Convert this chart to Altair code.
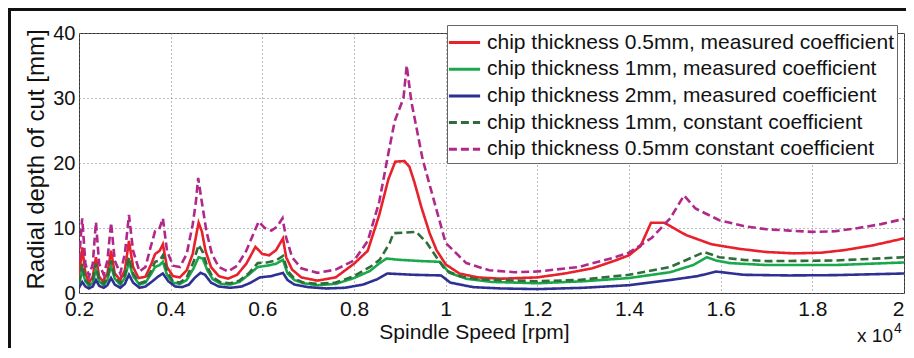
import altair as alt
import pandas as pd

NAMES = [
    "chip thickness 0.5mm, measured coefficient",
    "chip thickness 1mm, measured coefficient",
    "chip thickness 2mm, measured coefficient",
    "chip thickness 1mm, constant coefficient",
    "chip thickness 0.5mm constant coefficient",
]
COLORS = ["#E8212A", "#19A84B", "#2E3192", "#2F6E3B", "#B0288A"]
DASHES = [[1, 0], [1, 0], [1, 0], [8, 4], [8, 4]]

X_TICKS = [0.2, 0.4, 0.6, 0.8, 1.0, 1.2, 1.4, 1.6, 1.8, 2.0]
Y_TICKS = [0, 10, 20, 30, 40]

# chip thickness 0.5mm, measured coefficient (red)
RED_X = [0.200, 0.207, 0.214, 0.222, 0.230, 0.237, 0.244, 0.252, 0.262, 0.270, 0.278, 0.290, 0.300, 0.309,
         0.318, 0.330, 0.345, 0.358, 0.366, 0.376, 0.383, 0.392, 0.405, 0.420, 0.435, 0.448, 0.456, 0.461,
         0.468, 0.476, 0.488, 0.505, 0.525, 0.545, 0.565, 0.585, 0.600, 0.615, 0.630, 0.645, 0.652, 0.665,
         0.685, 0.72, 0.76, 0.80, 0.83, 0.855, 0.875, 0.890, 0.910, 0.921, 0.932, 0.947, 0.965, 0.980,
         1.000, 1.030, 1.070, 1.120, 1.20, 1.26, 1.32, 1.37, 1.40, 1.425, 1.448, 1.477, 1.525, 1.58, 1.64,
         1.70, 1.76, 1.82, 1.87, 1.93, 2.00]
RED_Y = [2.5, 7.0, 3.0, 1.6, 2.5, 5.5, 2.5, 1.8, 3.0, 6.5, 3.0, 2.0, 3.5, 8.0,
         4.0, 2.3, 2.5, 4.5, 6.0, 6.5, 7.5, 4.0, 2.6, 2.4, 3.5, 6.0, 9.0, 10.8,
         9.5, 6.5, 4.0, 2.6, 2.2, 2.8, 4.5, 7.1, 6.0, 5.8, 6.6, 8.4, 5.5, 3.6,
         2.4, 1.9, 2.4, 4.5, 6.5, 12.0, 17.5, 20.2, 20.3, 19.4, 17.0, 13.2, 9.2, 6.6,
         4.4, 3.0, 2.4, 2.2, 2.4, 3.0, 3.8, 5.0, 5.8, 7.2, 10.8, 10.8, 8.9, 7.5, 6.8,
         6.3, 6.1, 6.2, 6.6, 7.3, 8.4]

# chip thickness 1mm, measured coefficient (green)
GRN_X = [0.200, 0.207, 0.214, 0.222, 0.230, 0.237, 0.244, 0.254, 0.262, 0.270, 0.278, 0.290, 0.300, 0.309,
         0.318, 0.332, 0.345, 0.358, 0.366, 0.376, 0.383, 0.392, 0.405, 0.420, 0.435, 0.450, 0.461, 0.470,
         0.480, 0.492, 0.510, 0.530, 0.550, 0.570, 0.590, 0.610, 0.630, 0.645, 0.655, 0.670, 0.69, 0.72,
         0.76, 0.80, 0.835, 0.856, 0.871, 0.90, 0.95, 0.987, 1.008, 1.045, 1.10, 1.20, 1.30, 1.40, 1.49,
         1.54, 1.570, 1.590, 1.62, 1.70, 1.85, 2.00]
GRN_Y = [1.3, 3.5, 1.8, 1.1, 1.6, 3.7, 1.8, 1.2, 2.0, 4.2, 2.2, 1.3, 2.3, 4.8,
         2.6, 1.3, 1.6, 3.0, 4.0, 4.3, 4.8, 2.8, 1.6, 1.4, 2.0, 3.8, 5.5, 5.3,
         3.5, 2.1, 1.4, 1.3, 1.7, 2.8, 4.0, 4.2, 4.5, 5.1, 3.0, 2.0, 1.5, 1.2,
         1.4, 2.3, 3.4, 4.6, 5.3, 5.1, 4.9, 4.8, 3.1, 2.2, 1.7, 1.5, 1.8, 2.3, 3.2,
         4.3, 5.5, 5.0, 4.6, 4.3, 4.3, 4.7]

# chip thickness 2mm, measured coefficient (blue)
BLU_X = [0.200, 0.207, 0.214, 0.222, 0.230, 0.237, 0.244, 0.254, 0.262, 0.270, 0.278, 0.290, 0.300, 0.309,
         0.318, 0.332, 0.345, 0.360, 0.372, 0.383, 0.395, 0.41, 0.425, 0.44, 0.452, 0.465, 0.475, 0.488,
         0.505, 0.53, 0.555, 0.575, 0.595, 0.62, 0.645, 0.655, 0.67, 0.70, 0.74, 0.78, 0.82, 0.85, 0.873,
         0.93, 0.99, 1.01, 1.06, 1.12, 1.20, 1.30, 1.40, 1.49, 1.55, 1.59, 1.65, 1.75, 1.85, 2.00]
BLU_Y = [0.8, 1.7, 1.0, 0.7, 1.0, 2.0, 1.1, 0.8, 1.2, 2.3, 1.3, 0.8, 1.4, 2.8,
         1.6, 0.8, 1.0, 1.8, 2.5, 3.0, 1.8, 1.0, 0.9, 1.3, 2.3, 3.1, 2.8, 1.6,
         1.0, 0.8, 1.0, 1.6, 2.4, 2.6, 3.1, 2.0, 1.3, 0.9, 0.7, 0.8, 1.3, 2.1, 3.0,
         2.8, 2.7, 1.6, 0.9, 0.7, 0.6, 0.8, 1.2, 2.0, 2.6, 3.3, 2.8, 2.7, 2.75, 3.0]

# chip thickness 1mm, constant coefficient (dark green dashed)
DGR_X = [0.200, 0.207, 0.214, 0.222, 0.230, 0.237, 0.244, 0.254, 0.262, 0.270, 0.278, 0.290, 0.300, 0.309,
         0.318, 0.332, 0.345, 0.358, 0.366, 0.376, 0.383, 0.392, 0.405, 0.420, 0.435, 0.450, 0.461, 0.470,
         0.480, 0.492, 0.510, 0.530, 0.550, 0.570, 0.590, 0.610, 0.630, 0.645, 0.655, 0.670, 0.69, 0.72,
         0.76, 0.80, 0.835, 0.856, 0.878, 0.886, 0.910, 0.936, 0.958, 0.980, 1.000, 1.03, 1.07, 1.20, 1.29,
         1.40, 1.49, 1.564, 1.597, 1.65, 1.705, 1.85, 2.00]
DGR_Y = [1.5, 4.5, 2.0, 1.3, 2.0, 4.5, 2.0, 1.4, 2.5, 5.0, 2.5, 1.5, 2.8, 5.5,
         3.0, 1.5, 1.8, 3.5, 4.8, 5.0, 5.8, 3.3, 1.8, 1.6, 2.4, 4.8, 7.4, 6.3,
         4.0, 2.4, 1.6, 1.5, 1.9, 3.0, 4.6, 4.7, 5.0, 5.7, 3.4, 2.2, 1.6, 1.4,
         1.6, 2.6, 4.0, 5.1, 7.7, 9.2, 9.3, 9.4, 7.8, 5.5, 3.5, 2.6, 2.1, 1.8, 2.0,
         2.8, 4.0, 6.3, 5.5, 5.1, 4.9, 5.0, 5.5]

# chip thickness 0.5mm constant coefficient (magenta dashed)
MAG_X = [0.200, 0.207, 0.214, 0.222, 0.230, 0.237, 0.244, 0.254, 0.262, 0.270, 0.278, 0.290, 0.300, 0.309,
         0.318, 0.332, 0.345, 0.356, 0.366, 0.375, 0.383, 0.392, 0.405, 0.420, 0.435, 0.448, 0.455, 0.460,
         0.468, 0.478, 0.490, 0.505, 0.525, 0.545, 0.565, 0.580, 0.592, 0.605, 0.620, 0.632, 0.644, 0.652,
         0.665, 0.685, 0.72, 0.76, 0.80, 0.83, 0.855, 0.875, 0.889, 0.900, 0.908, 0.915, 0.925, 0.950,
         0.980, 1.000, 1.045, 1.095, 1.15, 1.20, 1.29, 1.36, 1.40, 1.45, 1.49, 1.520, 1.545, 1.597, 1.65,
         1.70, 1.75, 1.80, 1.85, 1.90, 1.95, 2.00]
MAG_Y = [5.0, 11.5, 4.5, 2.6, 4.5, 10.9, 4.5, 2.8, 5.0, 10.8, 5.0, 3.0, 6.0, 12.0,
         6.5, 3.3, 4.0, 7.0, 9.5, 9.8, 11.5, 6.5, 4.2, 4.0, 6.0, 10.5, 14.0, 17.7,
         14.0, 9.5, 6.0, 4.0, 3.3, 4.2, 6.5, 9.0, 11.0, 10.0, 9.6, 10.2, 11.5, 8.5,
         5.5, 3.8, 3.1, 3.6, 5.0, 8.0, 14.0, 21.5, 26.5, 28.5, 30.0, 35.0, 29.5, 20.5,
         12.8, 7.7, 4.6, 3.5, 3.2, 3.3, 4.0, 5.3, 6.2, 8.5, 11.5, 15.0, 13.0, 11.2, 10.3,
         9.8, 9.6, 9.4, 9.5, 10.0, 10.6, 11.4]

SERIES_X = [RED_X, GRN_X, BLU_X, DGR_X, MAG_X]
SERIES_Y = [RED_Y, GRN_Y, BLU_Y, DGR_Y, MAG_Y]

rows = []
for name, xs, ys in zip(NAMES, SERIES_X, SERIES_Y):
    for xv, yv in zip(xs, ys):
        rows.append({"series": name, "speed": xv, "depth": yv})
df = pd.DataFrame(rows)

FONT = "Liberation Sans"
W, H = 825, 260

legend = alt.Legend(
    title=None, orient="none", legendX=368, legendY=-8, direction="vertical",
    symbolType="M-1.2,0H1.2", symbolSize=676, symbolStrokeWidth=3,
    labelFont=FONT, labelFontSize=21, labelColor="#111", labelLimit=800, labelOffset=8,
    strokeColor="#666", fillColor="white", padding=3, rowPadding=1.7,
)

lines = alt.Chart(df).mark_line(strokeWidth=2.6, clip=True).encode(
    x=alt.X("speed:Q",
            scale=alt.Scale(domain=[0.2, 2.0], nice=False, zero=False),
            axis=alt.Axis(values=X_TICKS, format=".1~f", title="Spindle Speed [rpm]",
                          titleX=395, titleY=45, titleBaseline="alphabetic", titleAlign="center",
                          titleFontSize=21, labelFontSize=21, labelPadding=5, labelFlush=False,
                          labelAlign={"condition": {"test": "datum.value >= 2", "value": "right"},
                                      "value": "center"})),
    y=alt.Y("depth:Q",
            scale=alt.Scale(domain=[0, 40], nice=False),
            axis=alt.Axis(values=Y_TICKS, title="Radial depth of cut [mm]",
                          titleX=-36, titleY=126, titleAngle=-90, titleBaseline="alphabetic",
                          titleAlign="center", titleFontSize=24, labelFontSize=20, labelPadding=4)),
    color=alt.Color("series:N", scale=alt.Scale(domain=NAMES, range=COLORS), legend=legend),
    strokeDash=alt.StrokeDash("series:N", scale=alt.Scale(domain=NAMES, range=DASHES), legend=legend),
)

mult = alt.Chart(pd.DataFrame({"t": ["x 10"]})).mark_text(
    font=FONT, fontSize=19, align="right", baseline="alphabetic", color="#111"
).encode(x=alt.value(814), y=alt.value(309), text="t:N")

expo = alt.Chart(pd.DataFrame({"t": ["4"]})).mark_text(
    font=FONT, fontSize=14, align="left", baseline="alphabetic", color="#111"
).encode(x=alt.value(815), y=alt.value(300), text="t:N")

frame_left = alt.Chart(pd.DataFrame({"k": [0]})).mark_rule(color="#111", strokeWidth=3).encode(
    x=alt.value(-69.5), y=alt.value(-25), y2=alt.value(330))
frame_top = alt.Chart(pd.DataFrame({"k": [0]})).mark_rule(color="#111", strokeWidth=3).encode(
    x=alt.value(-71), x2=alt.value(840), y=alt.value(-23.5))

chart = alt.layer(lines, mult, expo, frame_left, frame_top).properties(
    width=W, height=H,
    autosize=alt.AutoSizeParams(type="none"),
    padding={"left": 71, "top": 25, "right": 2, "bottom": 55},
).configure_view(
    stroke="#333", strokeWidth=1
).configure_axis(
    grid=True, gridDash=[1, 3], gridColor="#777", gridWidth=1,
    domain=False, ticks=False,
    labelFont=FONT, titleFont=FONT, labelColor="#111", titleColor="#111",
    titleFontWeight="normal",
)

chart.save("out.html", embed_options={"renderer": "svg", "actions": False})
